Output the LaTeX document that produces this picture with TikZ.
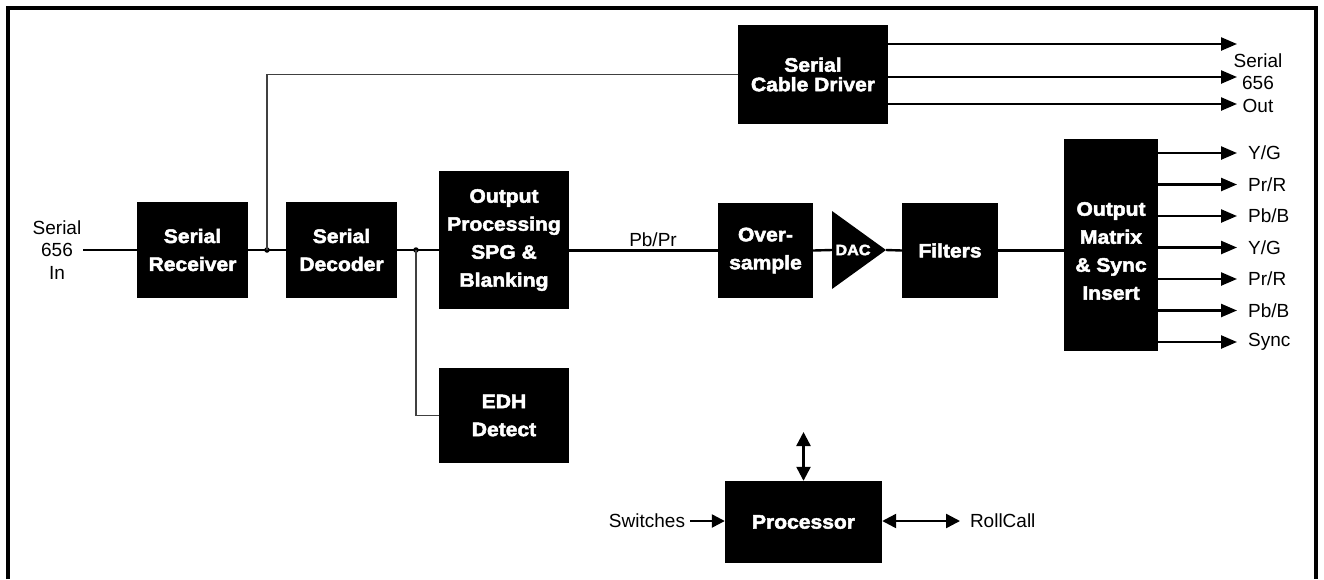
\documentclass[tikz,border=0pt]{standalone}
\usepackage{fontspec}
\setmainfont{Liberation Sans}
\newfontfamily\blkfont{Liberation Sans}[FakeStretch=1.08,BoldFeatures={FakeBold=2.5}]
\usetikzlibrary{arrows.meta}

\tikzset{
  blk/.style={fill=black, text=white, align=center, inner sep=0pt,
    font=\blkfont\bfseries\fontsize{19.5}{28}\selectfont},
  lbl/.style={align=center, inner sep=2pt, font=\fontsize{19}{22.5}\selectfont},
  sig/.style={line width=2.4pt},
  tap/.style={line width=1.3pt, black!75},
  outarr/.style={line width=2.4pt, -{Triangle[length=16pt,width=13pt]}},
  ctlarr/.style={line width=2.4pt, {Triangle[length=14pt,width=14pt]}-{Triangle[length=14pt,width=14pt]}},
  dot/.style={circle, fill=black, inner sep=0pt, minimum size=5.5pt},
}

\begin{document}
\begin{tikzpicture}[x=1pt,y=-1pt]
\useasboundingbox (0,0) rectangle (1324,579);
\draw[line width=3.5pt] (8,579) -- (8,8) -- (1316,8) -- (1316,579);

\node[blk, minimum width=111pt, minimum height=96pt] (rx) at (192.5,250) {Serial\\Receiver};
\node[blk, minimum width=111pt, minimum height=96pt] (dec) at (341.5,250) {Serial\\Decoder};
\node[blk, minimum width=130pt, minimum height=138pt] (op) at (504,240) {Output\\Processing\\SPG \&\\Blanking};
\node[blk, minimum width=130pt, minimum height=95pt] (edh) at (504,415.5) {EDH\\Detect};
\node[blk, minimum width=150pt, minimum height=99pt] (drv) at (813,74.5) {Serial\\[-8.5pt]Cable Driver};
\node[blk, minimum width=95pt, minimum height=95pt] (ovs) at (765.5,250.5) {Over-\\sample};
\fill (832,211) -- (886,250) -- (832,289) -- cycle;
\node[blk, fill=none, font=\blkfont\bfseries\fontsize{15}{18}\selectfont] (dac) at (853,250) {DAC};
\coordinate (dacin) at (832,250);
\coordinate (dacout) at (886,250);
\node[blk, minimum width=96pt, minimum height=95pt] (flt) at (950,250.5) {Filters};
\node[blk, minimum width=94pt, minimum height=212pt] (mtx) at (1111,245) {};
\node[blk, fill=none] (mtxtxt) at (1111,251) {Output\\Matrix\\\& Sync\\Insert};
\node[blk, minimum width=157pt, minimum height=82pt] (proc) at (803.5,522) {Processor};

\node[lbl] (sin) at (57,250) {Serial\\656\\In};
\node[lbl] (sout) at (1258,83) {Serial\\656\\Out};
\node[lbl] (pbpr) at (653,240) {Pb/Pr};
\node[lbl, anchor=east, outer sep=3pt] (sw) at (690,521) {Switches};
\node[lbl, anchor=west, outer sep=8pt] (rc) at (960,521) {RollCall};

\draw[sig] (sin.east) -- (rx.west);
\draw[sig] (rx.east) -- (dec.west);
\node[dot] (j1) at (267,250) {};
\draw[tap] (j1.center) |- (drv.west);
\draw[sig] (dec.east) -- (dec.east -| op.west);
\node[dot] (j2) at (416,250) {};
\draw[tap] (j2.center) |- (edh.west);
\draw[sig] (op.east |- ovs.west) -- (ovs.west);
\draw[sig] (ovs.east) -- (dacin);
\draw[sig] (dacout) -- (flt.west);
\draw[sig] (flt.east) -- (flt.east -| mtx.west);

\foreach \yy/\nm in {44/a,77/b,104/c} {
  \coordinate (so\nm) at (1237,\yy);
  \draw[outarr] (drv.east |- so\nm) -- (so\nm);
}
\foreach \ch [count=\i from 0] in {{Y/G},{Pr/R},{Pb/B},{Y/G},{Pr/R},{Pb/B},{Sync}} {
  \coordinate (mo\i) at (1237,{153+31.5*\i});
  \draw[outarr] (mtx.east |- mo\i) -- (mo\i);
  \node[lbl, anchor=west] (ml\i) at (1246,{153+31.5*\i}) {\ch};
}

\coordinate (bus) at (802,432);
\draw[ctlarr] (proc.north) -- (proc.north |- bus);
\draw[line width=2.4pt, -{Triangle[length=13pt,width=13pt]}] (sw.east) -- (sw.east -| proc.west);
\draw[ctlarr] (proc.east |- rc.west) -- (rc.west);
\end{tikzpicture}
\end{document}
